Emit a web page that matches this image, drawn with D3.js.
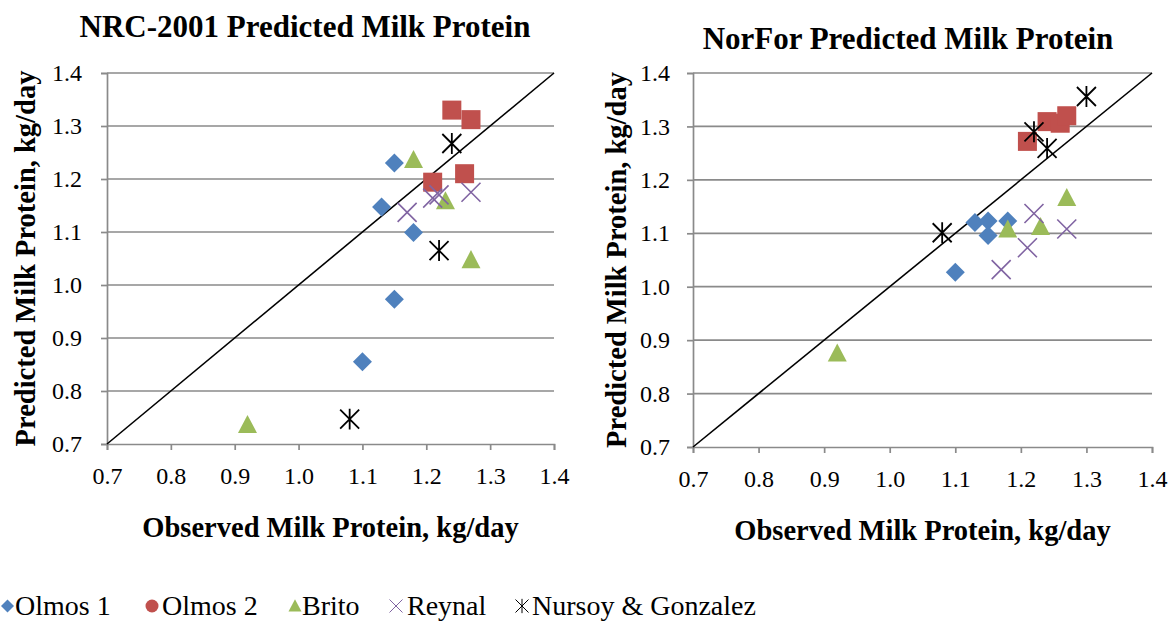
<!DOCTYPE html>
<html>
<head>
<meta charset="utf-8">
<script src="https://cdn.jsdelivr.net/npm/d3@7"></script>
<style>
  body { margin: 0; background: #fff; }
</style>
</head>
<body>
<svg class="chart"></svg>
<script>
const width = 1173, height = 626;
const ticks = [0.7, 0.8, 0.9, 1.0, 1.1, 1.2, 1.3, 1.4];
const seriesNames = ["Olmos 1", "Olmos 2", "Brito", "Reynal", "Nursoy & Gonzalez"];
const colors = ["#4f81bd", "#c0504d", "#9bbb59", "#8064a2", "#000000"];
const serif = "'Liberation Serif', 'Times New Roman', serif";

// NRC-2001 panel: [observed, predicted]
const nrcOlmos1 = [[1.15, 1.23], [1.13, 1.147], [1.18, 1.099], [1.15, 0.973], [1.10, 0.855]];
const nrcOlmos2 = [[1.24, 1.33], [1.27, 1.312], [1.21, 1.194], [1.26, 1.21]];
const nrcBrito = [[1.18, 1.236], [1.23, 1.158], [1.27, 1.047], [0.92, 0.736]];
const nrcReynal = [[1.17, 1.137], [1.21, 1.164], [1.22, 1.17], [1.27, 1.175]];
const nrcNursoy = [[1.24, 1.267], [1.22, 1.065], [1.08, 0.747]];

// NorFor panel
const norOlmos1 = [[1.13, 1.12], [1.15, 1.123], [1.18, 1.123], [1.15, 1.096], [1.10, 1.027]];
const norOlmos2 = [[1.21, 1.272], [1.24, 1.309], [1.26, 1.306], [1.27, 1.32]];
const norBrito = [[1.27, 1.166], [1.18, 1.107], [1.23, 1.112], [0.92, 0.875]];
const norReynal = [[1.22, 1.137], [1.27, 1.108], [1.21, 1.073], [1.17, 1.032]];
const norNursoy = [[1.08, 1.101], [1.22, 1.29], [1.24, 1.259], [1.30, 1.356]];

const panels = [
  { title: "NRC-2001 Predicted Milk Protein", titleX: 305, titleY: 37,
    left: 107, right: 554, top: 73, bottom: 444, yLabelX: 35, yPad: 19,
    series: [nrcOlmos1, nrcOlmos2, nrcBrito, nrcReynal, nrcNursoy] },
  { title: "NorFor Predicted Milk Protein", titleX: 908, titleY: 49,
    left: 693, right: 1152, top: 73, bottom: 447, yLabelX: 626, yPad: 17,
    series: [norOlmos1, norOlmos2, norBrito, norReynal, norNursoy] }
];

const svg = d3.select(".chart").attr("width", width).attr("height", height);

// marker drawing: diamond, square, triangle, x, star
function drawMarker(g, kind, size, color, sw) {
  const s = size / 2;
  if (kind === 0) {
    g.append("path").attr("d", `M0,${-s}L${s},0L0,${s}L${-s},0Z`).attr("fill", color);
  } else if (kind === 1) {
    g.append("rect").attr("x", -s).attr("y", -s).attr("width", size).attr("height", size).attr("fill", color);
  } else if (kind === 2) {
    g.append("path").attr("d", `M0,${-s * 1.05}L${s},${s * 0.85}L${-s},${s * 0.85}Z`).attr("fill", color);
  } else if (kind === 3) {
    g.append("path").attr("d", `M${-s},${-s}L${s},${s}M${s},${-s}L${-s},${s}`)
      .attr("stroke", color).attr("stroke-width", sw).attr("fill", "none");
  } else {
    g.append("path").attr("d", `M${-s},${-s}L${s},${s}M${s},${-s}L${-s},${s}M0,${-s * 1.1}L0,${s * 1.1}`)
      .attr("stroke", color).attr("stroke-width", sw).attr("fill", "none");
  }
}

panels.forEach(p => {
  const x = d3.scaleLinear().domain([0.7, 1.4]).range([p.left, p.right]);
  const y = d3.scaleLinear().domain([0.7, 1.4]).range([p.bottom, p.top]);
  const g = svg.append("g");

  // gridlines
  g.append("g").selectAll("line").data(ticks.slice(1)).join("line")
    .attr("x1", p.left).attr("x2", p.right)
    .attr("y1", d => y(d)).attr("y2", d => y(d))
    .attr("stroke", "#8a8a8a").attr("stroke-width", 1.7);

  const yAxis = d3.axisLeft(y).tickValues(ticks).tickFormat(d3.format(".1f")).tickSize(6).tickPadding(p.yPad);
  const xAxis = d3.axisBottom(x).tickValues(ticks).tickFormat(d3.format(".1f")).tickSize(6).tickPadding(17);

  [g.append("g").attr("transform", `translate(${p.left},0)`).call(yAxis),
   g.append("g").attr("transform", `translate(0,${p.bottom})`).call(xAxis)].forEach(a => {
    a.attr("font-family", null).attr("font-size", null);
    a.select(".domain").attr("stroke", "#8a8a8a").attr("stroke-width", 1.7);
    a.selectAll(".tick line").attr("stroke", "#8a8a8a").attr("stroke-width", 1.7);
    a.selectAll("text").style("font-family", serif).style("font-size", "24px").attr("fill", "#000");
  });

  // 1:1 line
  g.append("line")
    .attr("x1", x(0.7)).attr("y1", y(0.7)).attr("x2", x(1.4)).attr("y2", y(1.4))
    .attr("stroke", "#000").attr("stroke-width", 1.6);

  p.series.forEach((data, i) => {
    data.forEach(d => {
      const m = g.append("g").attr("transform", `translate(${x(d[0])},${y(d[1])})`);
      drawMarker(m, i, 19, colors[i], i === 4 ? 1.8 : 1.6);
    });
  });

  g.append("text").attr("x", p.titleX).attr("y", p.titleY)
    .attr("text-anchor", "middle").style("font-family", serif).style("font-size", "31px")
    .attr("font-weight", "bold").text(p.title);

  g.append("text").attr("x", (p.left + p.right) / 2).attr("y", p.bottom + 93)
    .attr("text-anchor", "middle").style("font-family", serif).style("font-size", "28.5px")
    .attr("font-weight", "bold").text("Observed Milk Protein, kg/day");

  g.append("text")
    .attr("transform", `translate(${p.yLabelX},${(p.top + p.bottom) / 2}) rotate(-90)`)
    .attr("text-anchor", "middle").style("font-family", serif).style("font-size", "28.5px")
    .attr("font-weight", "bold").text("Predicted Milk Protein, kg/day");
});

// legend
const legendMarkX = [7.5, 152, 295, 396, 522];
const legendTextX = [15, 162, 302, 407, 532];
const legend = svg.append("g").attr("transform", "translate(0,606)");
seriesNames.forEach((name, i) => {
  const m = legend.append("g").attr("transform", `translate(${legendMarkX[i]},0)`);
  if (i === 1) {
    m.append("circle").attr("r", 6.5).attr("fill", colors[1]);
  } else {
    drawMarker(m, i, 13, colors[i], 1);
  }
  legend.append("text").attr("x", legendTextX[i]).attr("y", 9)
    .style("font-family", serif).style("font-size", "28px").text(name);
});
</script>
</body>
</html>
